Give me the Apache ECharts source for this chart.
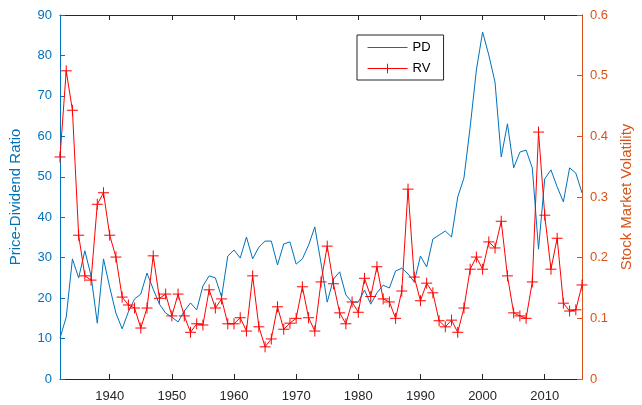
<!DOCTYPE html>
<html>
<head>
<meta charset="utf-8">
<script src="https://cdn.jsdelivr.net/npm/echarts@6/dist/echarts.min.js"></script>
<style>
html,body{margin:0;padding:0;background:#fff;}
#chart{width:642px;height:405px;}
</style>
</head>
<body>
<div id="chart"></div>
<script>
var years = [];
for (var y = 1932; y <= 2016; y++) years.push(y);

var pd = [10.1,15.3,29.7,25.0,31.7,25.5,13.8,29.7,22.7,16.3,
12.4,16.6,19.8,21.0,26.2,22.2,18.5,16.3,15.3,14.1,
16.8,18.8,17.1,23.0,25.5,25.0,20.3,30.4,31.9,29.9,
35.1,29.7,32.6,34.1,34.1,28.2,33.4,33.9,28.4,29.7,
33.1,37.6,28.7,19.0,24.7,26.5,20.8,19.0,19.0,22.0,
18.5,21.3,23.2,22.5,26.7,27.4,26.0,24.0,30.4,27.7,
34.6,35.6,36.6,35.1,45.0,49.7,62.3,76.4,85.8,80.1,
73.4,54.9,63.1,52.2,56.1,56.6,52.2,32.1,49.5,51.7,
47.5,43.8,52.2,50.9,46.0];

var rv = [0.366,0.508,0.443,0.237,0.170,0.163,0.288,0.307,0.237,0.201,
0.135,0.122,0.117,0.084,0.117,0.203,0.133,0.140,0.104,0.140,
0.104,0.077,0.091,0.089,0.147,0.117,0.132,0.091,0.091,0.101,
0.079,0.170,0.086,0.053,0.066,0.119,0.082,0.092,0.100,0.152,
0.101,0.079,0.160,0.219,0.157,0.109,0.091,0.127,0.110,0.166,
0.136,0.185,0.132,0.127,0.100,0.145,0.313,0.168,0.129,0.158,
0.142,0.096,0.086,0.097,0.077,0.117,0.181,0.201,0.181,0.226,
0.216,0.260,0.170,0.109,0.104,0.100,0.160,0.407,0.270,0.181,
0.232,0.125,0.112,0.114,0.155];

var xTicks = [1940,1950,1960,1970,1980,1990,2000,2010];

var pdData = years.map(function(y,i){return [y, pd[i]];});
var rvData = years.map(function(y,i){return [y, rv[i]];});

var BLUE = '#0072BD', ORANGE = '#D95319', DARK = '#262626';
var FONT = 'Liberation Sans';

var chart = echarts.init(document.getElementById('chart'), null, {renderer:'canvas'});
chart.setOption({
  animation: false,
  backgroundColor: '#fff',
  textStyle: {fontFamily: FONT},
  grid: {left: 56, right: 59, top: 15, bottom: 26, containLabel: false},
  legend: {
    orient: 'vertical',
    left: 357, top: 35,
    backgroundColor: '#fff',
    borderColor: DARK, borderWidth: 1,
    padding: [6, 13, 5, 10],
    itemWidth: 40, itemHeight: 12, itemGap: 8,
    textStyle: {fontFamily: FONT, fontSize: 13, color: '#000'},
    data: [
      {name: 'PD', icon: 'path://M0,0L0,0M0,5.5L40,5.5L40,6.5L0,6.5ZM40,12L40,12'},
      {name: 'RV', lineStyle: {width: 1}, itemStyle: {borderWidth: 1}}
    ]
  },
  xAxis: [{
    type: 'value', min: 1932, max: 2016, position: 'bottom',
    axisLine: {show: true, onZero: false, lineStyle: {color: DARK, width: 1}},
    axisTick: {show: true, inside: true, length: 5, customValues: xTicks, lineStyle: {color: DARK}},
    axisLabel: {show: true, customValues: xTicks, color: DARK, fontSize: 13, fontFamily: FONT, margin: 11,
      formatter: function(v){ return String(v); }},
    splitLine: {show: false}
  }, {
    type: 'value', min: 1932, max: 2016, position: 'top',
    axisLine: {show: true, onZero: false, lineStyle: {color: DARK, width: 1}},
    axisTick: {show: true, inside: true, length: 5, customValues: xTicks, lineStyle: {color: DARK}},
    axisLabel: {show: false},
    splitLine: {show: false}
  }],
  yAxis: [{
    type: 'value', min: 0, max: 90, interval: 10, position: 'left',
    name: 'Price-Dividend Ratio', nameLocation: 'middle', nameGap: 37,
    nameTextStyle: {color: BLUE, fontSize: 15, fontFamily: FONT},
    axisLine: {show: true, onZero: false, lineStyle: {color: BLUE, width: 1}},
    axisTick: {show: true, inside: true, length: 5, lineStyle: {color: BLUE}},
    axisLabel: {color: BLUE, fontSize: 13, fontFamily: FONT, margin: 8},
    splitLine: {show: false}
  }, {
    type: 'value', min: 0, max: 0.6, interval: 0.1, position: 'right',
    name: 'Stock Market Volatility', nameLocation: 'middle', nameGap: 36, nameRotate: 90,
    nameTextStyle: {color: ORANGE, fontSize: 15, fontFamily: FONT},
    axisLine: {show: true, onZero: false, lineStyle: {color: ORANGE, width: 1}},
    axisTick: {show: true, inside: true, length: 5, lineStyle: {color: ORANGE}},
    axisLabel: {color: ORANGE, fontSize: 13, fontFamily: FONT, margin: 8,
      formatter: function(v){ return v === 0 ? '0' : v.toFixed(1); }},
    splitLine: {show: false}
  }],
  series: [{
    name: 'PD', type: 'line', xAxisIndex: 0, yAxisIndex: 0,
    data: pdData, symbol: 'none',
    lineStyle: {color: BLUE, width: 1},
    itemStyle: {color: BLUE},
    z: 2
  }, {
    name: 'RV', type: 'line', xAxisIndex: 0, yAxisIndex: 1,
    data: rvData,
    symbol: 'path://M0,5L10,5M5,0L5,10', symbolSize: 11, showAllSymbol: true,
    lineStyle: {color: '#FF0000', width: 1},
    itemStyle: {color: '#FF0000', borderColor: '#FF0000', borderWidth: 1},
    z: 3
  }]
});
</script>
</body>
</html>
